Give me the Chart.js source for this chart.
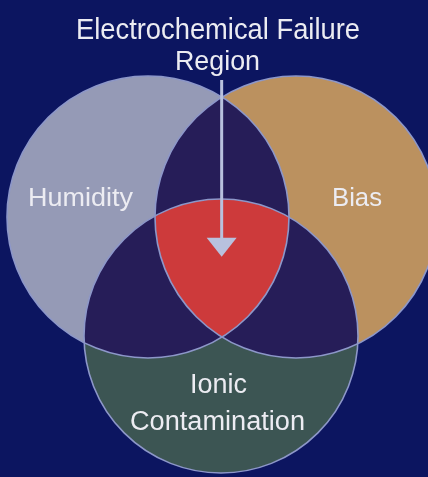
<!DOCTYPE html>
<html><head><meta charset="utf-8">
<script src="https://cdn.jsdelivr.net/npm/chart.js@4.4.1/dist/chart.umd.min.js"></script>
<style>html,body{margin:0;padding:0;background:#0c1560;overflow:hidden}#wrap{width:428px;height:477px}canvas{display:block}</style>
</head><body>
<div id="wrap"><canvas id="c" width="428" height="477"></canvas></div>
<script>
// ---- data ----
const setNames = ['Humidity', 'Bias', 'Ionic Contamination'];
const centerX = [148, 296, 221];
const centerY = [217, 217, 336];
const radius  = [141, 141, 137];
const titleLines = ['Electrochemical Failure', 'Region'];
const labelLines = [['Humidity'], ['Bias'], ['Ionic', 'Contamination']];

// ---- styles / layout ----
const BG = '#0c1560';
const setColors = ['#959ab6', '#bb915f', '#3c5553'];
const pairColor = '#261d58';
const tripleColor = '#cd3a3b';
const edgeColor = '#8d97c9';
const arrowColor = '#b8c1de';
const textColor = '#ececf2';
const FONT = '"Liberation Sans", Arial, Helvetica, sans-serif';
const titleLayout = [{cx: 218, base: 39, size: 29, w: 284}, {cx: 217.5, base: 70, size: 28, w: 85}];
const labelLayout = [
  [{cx: 80.5, base: 206, size: 26, w: 105}],
  [{cx: 357, base: 206, size: 26, w: 50}],
  [{cx: 218.5, base: 393, size: 27, w: 57}, {cx: 217.5, base: 430, size: 27, w: 175}]
];
const arrowTopY = 80;

function pixelRadius(chart, i) {
  const sx = chart.scales.x;
  return Math.abs(sx.getPixelForValue(centerX[i] + radius[i]) - sx.getPixelForValue(centerX[i]));
}

function fitText(ctx, text, L) {
  ctx.save();
  ctx.font = L.size + 'px ' + FONT;
  const m = ctx.measureText(text).width;
  const s = L.w / m;
  ctx.translate(L.cx, L.base);
  ctx.scale(s, 1);
  ctx.textAlign = 'center';
  ctx.textBaseline = 'alphabetic';
  ctx.fillStyle = textColor;
  ctx.fillText(text, 0, 0);
  ctx.restore();
}

function circlePath(ctx, c) {
  ctx.beginPath();
  ctx.arc(c.x, c.y, c.r, 0, Math.PI * 2);
}

const vennPlugin = {
  id: 'venn',
  beforeDraw(chart) {
    const ctx = chart.ctx;
    ctx.save();
    ctx.fillStyle = BG;
    ctx.fillRect(0, 0, chart.width, chart.height);
    ctx.restore();
  },
  afterDatasetsDraw(chart) {
    const ctx = chart.ctx;
    const meta = chart.getDatasetMeta(0);
    const circles = meta.data.map((el, i) => ({x: el.x, y: el.y, r: pixelRadius(chart, i)}));
    // pairwise overlaps
    const pairs = [[0, 1], [0, 2], [1, 2]];
    pairs.forEach(([a, b]) => {
      ctx.save();
      circlePath(ctx, circles[a]); ctx.clip();
      circlePath(ctx, circles[b]);
      ctx.fillStyle = pairColor; ctx.fill();
      ctx.restore();
    });
    // triple overlap
    ctx.save();
    circlePath(ctx, circles[0]); ctx.clip();
    circlePath(ctx, circles[1]); ctx.clip();
    circlePath(ctx, circles[2]);
    ctx.fillStyle = tripleColor; ctx.fill();
    ctx.restore();
    // outlines
    ctx.save();
    ctx.strokeStyle = edgeColor; ctx.lineWidth = 1.6;
    circles.forEach(c => { circlePath(ctx, c); ctx.stroke(); });
    ctx.restore();
    // arrow to centroid of the three set centres
    const tipX = circles.reduce((s, c) => s + c.x, 0) / circles.length;
    const tipY = circles.reduce((s, c) => s + c.y, 0) / circles.length;
    const topY = chart.scales.y.getPixelForValue(arrowTopY);
    ctx.save();
    ctx.fillStyle = arrowColor;
    ctx.fillRect(tipX - 1.5, topY, 3, tipY - topY - 17);
    ctx.beginPath();
    ctx.moveTo(tipX - 15, tipY - 19);
    ctx.lineTo(tipX + 15, tipY - 19);
    ctx.lineTo(tipX, tipY);
    ctx.closePath();
    ctx.fill();
    ctx.restore();
    // text
    titleLines.forEach((t, i) => fitText(ctx, t, titleLayout[i]));
    labelLines.forEach((lines, i) => lines.forEach((t, j) => fitText(ctx, t, labelLayout[i][j])));
  }
};

const chart = new Chart(document.getElementById('c'), {
  type: 'bubble',
  data: {
    datasets: [{
      label: 'Sets',
      data: setNames.map((n, i) => ({x: centerX[i], y: centerY[i], r: radius[i]})),
      backgroundColor: setColors,
      borderWidth: 0,
      hoverRadius: 0,
      clip: false
    }]
  },
  options: {
    responsive: false,
    animation: false,
    devicePixelRatio: 1,
    events: [],
    layout: {padding: 0, autoPadding: false},
    plugins: {legend: {display: false}, tooltip: {enabled: false}},
    scales: {
      x: {type: 'linear', min: 0, max: 428, display: false},
      y: {type: 'linear', min: 0, max: 477, reverse: true, display: false}
    }
  },
  plugins: [vennPlugin]
});
</script>
</body></html>
